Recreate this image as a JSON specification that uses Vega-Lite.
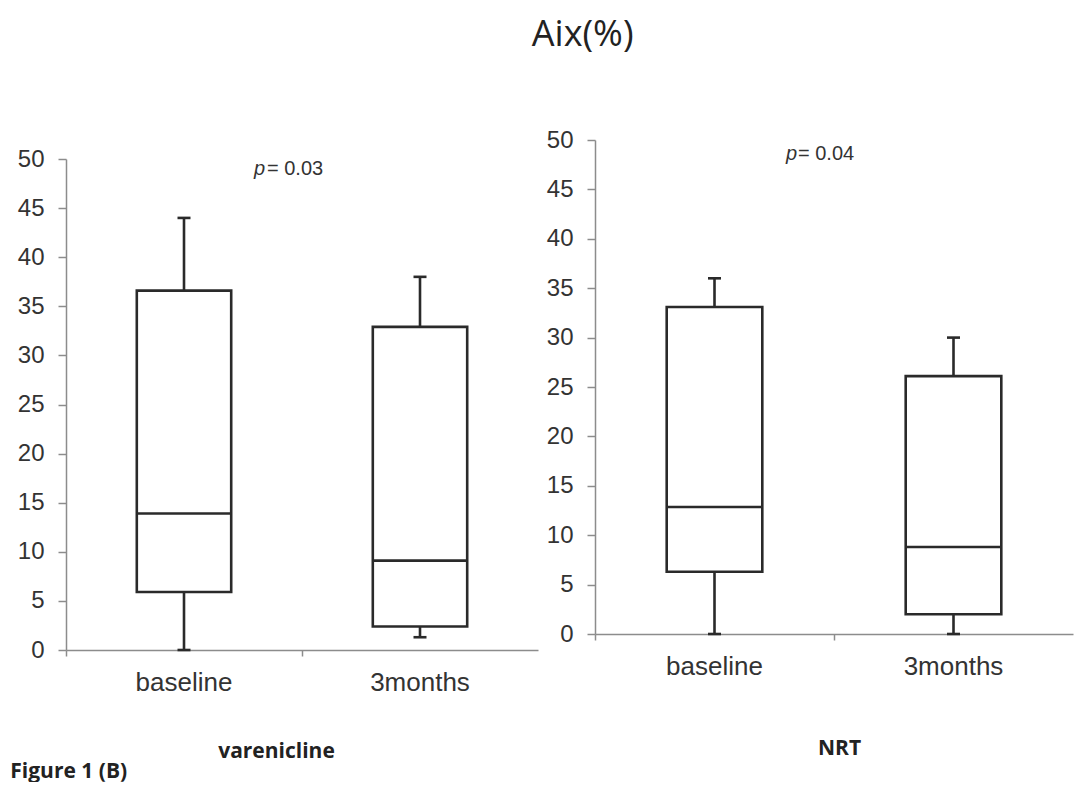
{
  "$schema": "https://vega.github.io/schema/vega-lite/v6.json",
  "background": "white",
  "padding": {"left": 10, "top": 17, "right": 2, "bottom": 0},
  "title": {"text": "Aix(%)", "font": "Open Sans", "fontSize": 36, "fontWeight": "normal", "color": "#222222", "anchor": "middle", "offset": 74, "dx": 41},
  "bounds": "flush",
  "spacing": 57,
  "datasets": {
    "boxes": [
      {"panel": "varenicline", "group": "baseline", "lower": 0, "q1": 5.9, "median": 13.9, "q3": 36.6, "upper": 44},
      {"panel": "varenicline", "group": "3months", "lower": 1.3, "q1": 2.4, "median": 9.1, "q3": 32.9, "upper": 38},
      {"panel": "NRT", "group": "baseline", "lower": 0, "q1": 6.3, "median": 12.85, "q3": 33.1, "upper": 36},
      {"panel": "NRT", "group": "3months", "lower": 0, "q1": 2.0, "median": 8.8, "q3": 26.1, "upper": 30}
    ],
    "notes": [
      {"panel": "varenicline", "group": "baseline", "y": 48.4, "p": "p", "rest": "= 0.03"},
      {"panel": "NRT", "group": "baseline", "y": 48.0, "p": "p", "rest": "= 0.04"}
    ]
  },
  "hconcat": [
    {
      "width": 472,
      "height": 510,
      "title": {"text": "Figure 1 (B)", "orient": "bottom", "anchor": "start", "frame": "bounds", "font": "Open Sans", "fontWeight": "bold", "fontSize": 21, "color": "#222222", "offset": 0, "dx": -7},
      "encoding": {
        "x": {"field": "group", "type": "nominal", "sort": ["baseline", "3months"],
          "scale": {"domain": ["baseline", "3months"], "paddingInner": 0, "paddingOuter": 0},
          "axis": {"title": "varenicline", "titleX": 210, "titleY": 107, "titleBaseline": "alphabetic"}}
      },
      "layer": [
        {"data": {"name": "boxes"}, "transform": [{"filter": "datum.panel === 'varenicline'"}],
         "mark": {"type": "rule", "stroke": "#2a2a2a", "strokeWidth": 2.6},
         "encoding": {"y": {"field": "lower", "type": "quantitative", "scale": {"domain": [0, 50], "range": [510, 19], "nice": false}, "axis": {"values": [0, 5, 10, 15, 20, 25, 30, 35, 40, 45, 50]}}, "y2": {"field": "q1"}}},
        {"data": {"name": "boxes"}, "transform": [{"filter": "datum.panel === 'varenicline'"}],
         "mark": {"type": "rule", "stroke": "#2a2a2a", "strokeWidth": 2.6},
         "encoding": {"y": {"field": "q3", "type": "quantitative"}, "y2": {"field": "upper"}}},
        {"data": {"name": "boxes"}, "transform": [{"filter": "datum.panel === 'varenicline'"}],
         "mark": {"type": "bar", "fill": "white", "stroke": "#2a2a2a", "strokeWidth": 2.6, "width": {"band": 0.4}},
         "encoding": {"y": {"field": "q1", "type": "quantitative"}, "y2": {"field": "q3"}}},
        {"data": {"name": "boxes"}, "transform": [{"filter": "datum.panel === 'varenicline'"}],
         "mark": {"type": "tick", "orient": "horizontal", "size": 96, "thickness": 2.6, "color": "#2a2a2a", "opacity": 1},
         "encoding": {"y": {"field": "median", "type": "quantitative"}}},
        {"data": {"name": "boxes"}, "transform": [{"filter": "datum.panel === 'varenicline'"}],
         "mark": {"type": "tick", "orient": "horizontal", "size": 13, "thickness": 2.6, "color": "#2a2a2a", "opacity": 1},
         "encoding": {"y": {"field": "upper", "type": "quantitative"}}},
        {"data": {"name": "boxes"}, "transform": [{"filter": "datum.panel === 'varenicline'"}],
         "mark": {"type": "tick", "orient": "horizontal", "size": 13, "thickness": 2.6, "color": "#2a2a2a", "opacity": 1},
         "encoding": {"y": {"field": "lower", "type": "quantitative"}}},
        {"data": {"name": "notes"}, "transform": [{"filter": "datum.panel === 'varenicline'"}],
         "mark": {"type": "text", "align": "right", "baseline": "alphabetic", "dx": -37, "font": "Liberation Sans", "fontStyle": "italic", "fontSize": 20, "color": "#333333"},
         "encoding": {"x": {"field": "group", "type": "nominal", "bandPosition": 1}, "y": {"field": "y", "type": "quantitative"}, "text": {"field": "p"}}},
        {"data": {"name": "notes"}, "transform": [{"filter": "datum.panel === 'varenicline'"}],
         "mark": {"type": "text", "align": "left", "baseline": "alphabetic", "dx": -35, "font": "Liberation Sans", "fontSize": 20, "color": "#333333"},
         "encoding": {"x": {"field": "group", "type": "nominal", "bandPosition": 1}, "y": {"field": "y", "type": "quantitative"}, "text": {"field": "rest"}}}
      ]
    },
    {
      "width": 478,
      "height": 494,
      "encoding": {
        "x": {"field": "group", "type": "nominal", "sort": ["baseline", "3months"],
          "scale": {"domain": ["baseline", "3months"], "paddingInner": 0, "paddingOuter": 0},
          "axis": {"title": "NRT", "titleX": 244, "titleY": 120, "titleBaseline": "alphabetic"}}
      },
      "layer": [
        {"data": {"name": "boxes"}, "transform": [{"filter": "datum.panel === 'NRT'"}],
         "mark": {"type": "rule", "stroke": "#2a2a2a", "strokeWidth": 2.6},
         "encoding": {"y": {"field": "lower", "type": "quantitative", "scale": {"domain": [0, 50], "nice": false}, "axis": {"values": [0, 5, 10, 15, 20, 25, 30, 35, 40, 45, 50]}}, "y2": {"field": "q1"}}},
        {"data": {"name": "boxes"}, "transform": [{"filter": "datum.panel === 'NRT'"}],
         "mark": {"type": "rule", "stroke": "#2a2a2a", "strokeWidth": 2.6},
         "encoding": {"y": {"field": "q3", "type": "quantitative"}, "y2": {"field": "upper"}}},
        {"data": {"name": "boxes"}, "transform": [{"filter": "datum.panel === 'NRT'"}],
         "mark": {"type": "bar", "fill": "white", "stroke": "#2a2a2a", "strokeWidth": 2.6, "width": {"band": 0.4}},
         "encoding": {"y": {"field": "q1", "type": "quantitative"}, "y2": {"field": "q3"}}},
        {"data": {"name": "boxes"}, "transform": [{"filter": "datum.panel === 'NRT'"}],
         "mark": {"type": "tick", "orient": "horizontal", "size": 97, "thickness": 2.6, "color": "#2a2a2a", "opacity": 1},
         "encoding": {"y": {"field": "median", "type": "quantitative"}}},
        {"data": {"name": "boxes"}, "transform": [{"filter": "datum.panel === 'NRT'"}],
         "mark": {"type": "tick", "orient": "horizontal", "size": 13, "thickness": 2.6, "color": "#2a2a2a", "opacity": 1},
         "encoding": {"y": {"field": "upper", "type": "quantitative"}}},
        {"data": {"name": "boxes"}, "transform": [{"filter": "datum.panel === 'NRT'"}],
         "mark": {"type": "tick", "orient": "horizontal", "size": 13, "thickness": 2.6, "color": "#2a2a2a", "opacity": 1},
         "encoding": {"y": {"field": "lower", "type": "quantitative"}}},
        {"data": {"name": "notes"}, "transform": [{"filter": "datum.panel === 'NRT'"}],
         "mark": {"type": "text", "align": "right", "baseline": "alphabetic", "dx": -37, "font": "Liberation Sans", "fontStyle": "italic", "fontSize": 20, "color": "#333333"},
         "encoding": {"x": {"field": "group", "type": "nominal", "bandPosition": 1}, "y": {"field": "y", "type": "quantitative"}, "text": {"field": "p"}}},
        {"data": {"name": "notes"}, "transform": [{"filter": "datum.panel === 'NRT'"}],
         "mark": {"type": "text", "align": "left", "baseline": "alphabetic", "dx": -36, "font": "Liberation Sans", "fontSize": 20, "color": "#333333"},
         "encoding": {"x": {"field": "group", "type": "nominal", "bandPosition": 1}, "y": {"field": "y", "type": "quantitative"}, "text": {"field": "rest"}}}
      ]
    }
  ],
  "config": {
    "view": {"stroke": null},
    "axis": {
      "grid": false,
      "domainColor": "#8c8c8c",
      "domainWidth": 1.5,
      "tickColor": "#8c8c8c",
      "tickWidth": 1.5,
      "labelFont": "Liberation Sans",
      "labelColor": "#333333",
      "titleFont": "Open Sans",
      "titleFontWeight": "bold",
      "titleFontSize": 21,
      "titleColor": "#222222"
    },
    "axisY": {"title": null, "tickSize": 8, "labelPadding": 14, "labelFontSize": 24},
    "axisX": {"bandPosition": 0, "tickSize": 6, "labelPadding": 13, "labelFontSize": 26, "labelAngle": 0}
  }
}
